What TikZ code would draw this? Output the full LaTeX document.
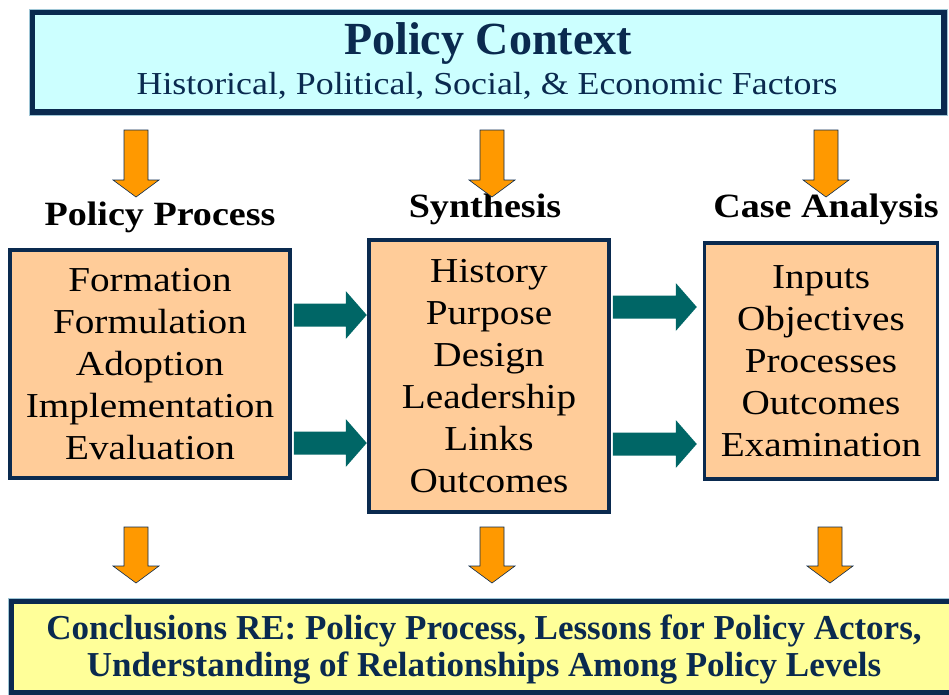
\documentclass[tikz,border=0pt]{standalone}
\usepackage{fontspec}
\setmainfont{Liberation Serif}
\newfontfamily\wideserif[FakeStretch=1.12]{Liberation Serif}
\usetikzlibrary{calc}
\definecolor{navy}{HTML}{0A2A4F}
\definecolor{cyanfill}{HTML}{CCFFFF}
\definecolor{peach}{HTML}{FFCC99}
\definecolor{lyellow}{HTML}{FFFF99}
\definecolor{tealfill}{HTML}{006666}
\definecolor{orng}{HTML}{FF9900}
\definecolor{lightline}{HTML}{9FC6D6}
\tikzset{
  x=1pt,y=-1pt,
  pbox/.style={draw=navy, line width=3.5pt, fill=peach, align=center, inner sep=0pt,
    font=\wideserif\fontsize{35}{42}\selectfont},
  lbl/.style={font=\wideserif\bfseries\fontsize{34}{38}\selectfont, inner sep=0pt},
  pics/darr/.style={code={
    \filldraw[fill=orng, draw=navy, line width=0.6pt]
      (-12,0) -- (12,0) -- (12,#1-17) -- (23,#1-17) -- (0,#1) -- (-23,#1-17) -- (-12,#1-17) -- cycle;}},
  pics/rarr/.style={code={
    \fill[tealfill]
      (0,-11.5) -- (#1-21,-11.5) -- (#1-21,-24) -- (#1,0) -- (#1-21,24) -- (#1-21,11.5) -- (0,11.5) -- cycle;}},
  frame/.style={draw=navy, line width=6pt},
  frameline/.style={draw=lightline, line width=1pt},
}
\begin{document}
\begin{tikzpicture}
\useasboundingbox (0,0) rectangle (949,694);
% top context box
\node[frame, fill=cyanfill, minimum width=912pt, minimum height=100pt, inner sep=0pt] (ctx) at (488,62) {};
\draw[frameline] (ctx.north west) rectangle (ctx.south east);
\node[font=\bfseries\fontsize{46}{50}\selectfont, text=navy, inner sep=0pt] (ctxtitle) at (488,44) {Policy Context};
\node[font=\wideserif\fontsize{32}{36}\selectfont, text=navy, inner sep=0pt] (ctxsub) at (487,86) {Historical, Political, Social, \& Economic Factors};

% column labels
\node[lbl] (lpp) at (160,217) {Policy Process};
\node[lbl] (lsy) at (485,209) {Synthesis};
\node[lbl] (lca) at (826,209) {Case Analysis};

% boxes
\node[pbox, minimum width=280pt, minimum height=228pt] (pp) at (150,364)
  {Formation\\Formulation\\Adoption\\Implementation\\Evaluation};
\node[pbox, minimum width=240pt, minimum height=272pt] (sy) at (489,376)
  {History\\Purpose\\Design\\Leadership\\Links\\Outcomes};
\node[pbox, minimum width=233pt, minimum height=236pt] (ca) at (821,361)
  {Inputs\\Objectives\\Processes\\Outcomes\\Examination};

% bottom conclusions box
\node[frame, fill=lyellow, minimum width=960pt, minimum height=92pt, inner sep=0pt] (cc) at (491,647) {};
\draw[frameline] (cc.north west) rectangle (cc.south east);
\node[font=\bfseries\fontsize{35}{37}\selectfont, text=navy, align=center, inner sep=0pt] (cctext) at (484,650)
  {Conclusions RE: Policy Process, Lessons for Policy Actors,\\Understanding of Relationships Among Policy Levels};

% orange arrows from context
\pic at (136,130) {darr=67};
\pic at (492,130) {darr=67};
\pic at (826,130) {darr=67};
% orange arrows to conclusions
\pic at (136,527) {darr=56};
\pic at (492,527) {darr=56};
\pic at (830,527) {darr=56};

% teal arrows between boxes
\coordinate (a1) at (pp.east |- 0,315);
\coordinate (a2) at (pp.east |- 0,443);
\coordinate (b1) at (sy.east |- 0,307);
\coordinate (b2) at (sy.east |- 0,444);
\pic at ($(a1)+(2,0)$) {rarr=73};
\pic at ($(a2)+(2,0)$) {rarr=73};
\pic at ($(b1)+(2,0)$) {rarr=84};
\pic at ($(b2)+(2,0)$) {rarr=84};
\end{tikzpicture}
\end{document}
